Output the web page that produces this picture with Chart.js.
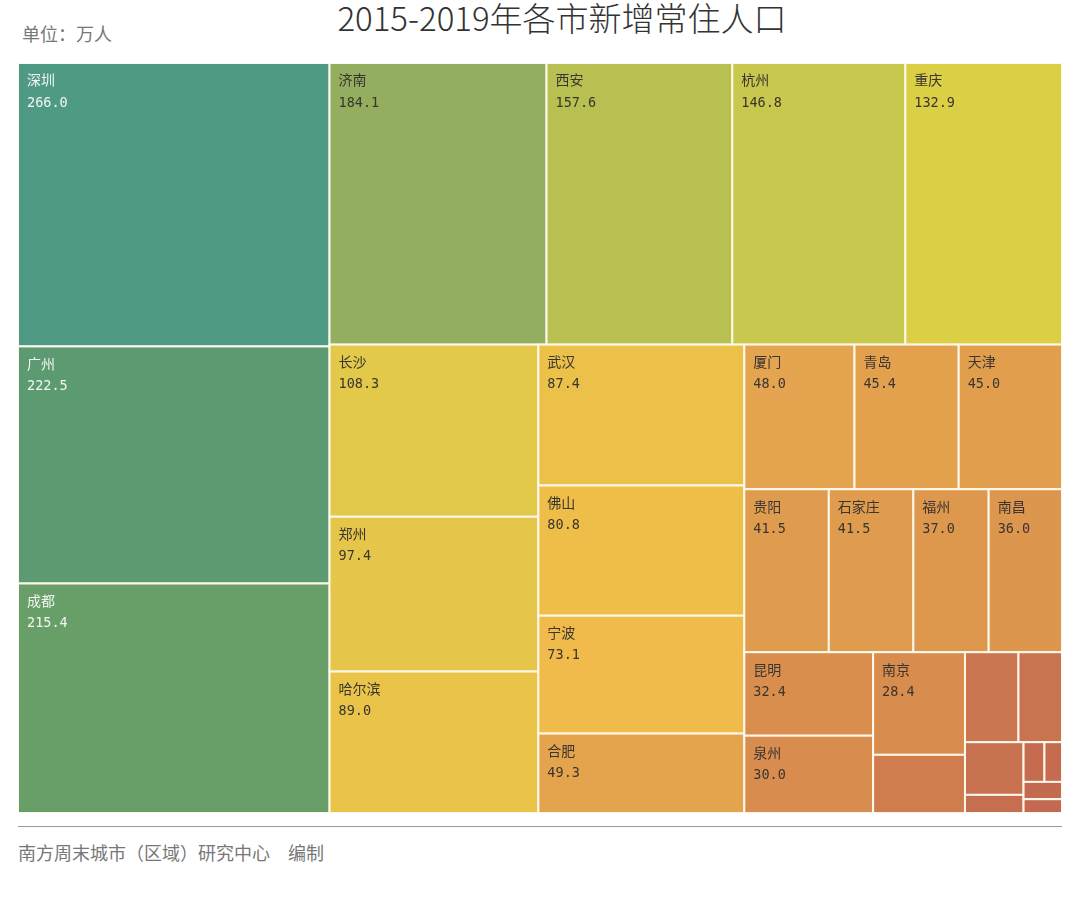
<!DOCTYPE html>
<html lang="zh-CN">
<head>
<meta charset="utf-8">
<title>2015-2019年各市新增常住人口</title>
<script src="https://cdn.jsdelivr.net/npm/chart.js@4.4.1/dist/chart.umd.min.js"></script>
<style>
  html, body { margin: 0; padding: 0; background: #fff; }
  body { width: 1080px; height: 897px; position: relative; overflow: hidden; font-family: "Noto Sans CJK SC", sans-serif; }
  #title { position: absolute; left: 562px; top: 1px; transform: translateX(-50%); white-space: nowrap; font-size: 33px; line-height: 33px; font-weight: 300; color: #333; }
  #unit { position: absolute; left: 22px; top: 24px; font-size: 18px; line-height: 18px; color: #777; }
  #wrap { position: absolute; left: 18px; top: 63px; width: 1044px; height: 750px; }
  #rule { position: absolute; left: 18px; top: 826px; width: 1044px; border-top: 1.5px solid #9a9a9a; }
  #source { position: absolute; left: 18px; top: 843px; font-size: 18px; line-height: 18px; color: #777; white-space: pre; }
</style>
</head>
<body>
<div id="title">2015-2019年各市新增常住人口</div>
<div id="unit">单位：万人</div>
<div id="wrap"><canvas id="treemap" width="1044" height="750"></canvas></div>
<div id="rule"></div>
<div id="source">南方周末城市（区域）研究中心　编制</div>

<script>
// cities sorted by increase (万人); the last few small cells carry no label in the source
const cityNames = ['深圳', '广州', '成都', '济南', '西安', '杭州', '重庆', '长沙', '郑州', '哈尔滨',
  '武汉', '佛山', '宁波', '合肥', '厦门', '青岛', '天津', '贵阳', '石家庄', '福州', '南昌',
  '昆明', '泉州', '南京', '', '', '', '', '', '', '', '', ''];
const cityValues = [266.0, 222.5, 215.4, 184.1, 157.6, 146.8, 132.9, 108.3, 97.4, 89.0,
  87.4, 80.8, 73.1, 49.3, 48.0, 45.4, 45.0, 41.5, 41.5, 37.0, 36.0,
  32.4, 30.0, 28.4, 16.1, 14.5, 11.8, 9.3, 3.2, 2.5, 2.1, 2.0, 1.6];

const cellColors = ['#4f9a84', '#5c9b72', '#689f68', '#93ae5e', '#b8c052', '#c8c84e', '#dbcf46',
  '#e2c94a', '#e6c64a', '#e9c449', '#ecc14a', '#efbe49', '#f0bb4a', '#e4a44e', '#e5a44f',
  '#e3a14e', '#e19f4e', '#e09c4e', '#df9b4e', '#de984e', '#dd964e', '#d98e4e', '#d88c4e',
  '#d88c4e', '#cf7c4f', '#cb7650', '#c97351', '#c87251', '#c66e50', '#c46b50', '#c46b50',
  '#c36a50', '#c3694f'];

const squareRatio = 0.5 * (1 + Math.sqrt(5)); // same golden-ratio bias as the usual treemap tools

// squarified layout in a w x h box, returns rects in the same units
function worst(row, side) {
  const s = row.reduce((a, b) => a + b, 0);
  const mx = Math.max(...row), mn = Math.min(...row);
  const f = side * side * squareRatio;
  return Math.max(f * mx / (s * s), (s * s) / (f * mn));
}

function squarify(values, w, h) {
  const total = values.reduce((a, b) => a + b, 0);
  const areas = values.map(v => v * w * h / total);
  const out = [];
  let x = 0, y = 0, i = 0;
  while (i < areas.length) {
    const side = Math.min(w, h);
    let row = [areas[i]];
    let j = i + 1;
    while (j < areas.length) {
      const next = row.concat(areas[j]);
      if (worst(next, side) <= worst(row, side)) { row = next; j++; } else break;
    }
    const thick = row.reduce((a, b) => a + b, 0) / side;
    if (w >= h) {
      let cy = y;
      row.forEach(a => { out.push({ x: x, y: cy, w: thick, h: a / thick }); cy += a / thick; });
      x += thick; w -= thick;
    } else {
      let cx = x;
      row.forEach(a => { out.push({ x: cx, y: y, w: a / thick, h: thick }); cx += a / thick; });
      y += thick; h -= thick;
    }
    i = j;
  }
  return out;
}

const treemapPlugin = {
  id: 'treemapCells',
  afterDatasetsDraw(chart) {
    const { ctx, chartArea, scales } = chart;
    const k = chartArea.width / chartArea.height;
    const cells = squarify(cityValues, k, 1);
    ctx.save();
    cells.forEach((c, i) => {
      const left = scales.x.getPixelForValue(c.x / k);
      const right = scales.x.getPixelForValue((c.x + c.w) / k);
      const top = scales.y.getPixelForValue(c.y);
      const bottom = scales.y.getPixelForValue(c.y + c.h);
      ctx.fillStyle = cellColors[i];
      ctx.fillRect(left, top, right - left, bottom - top);
      ctx.strokeStyle = '#fdf8ea';
      ctx.lineWidth = 2;
      ctx.strokeRect(left, top, right - left, bottom - top);

      if (cityNames[i]) {
        ctx.fillStyle = i < 3 ? '#f2f5f2' : '#3a3530';
        ctx.textBaseline = 'middle';
        ctx.textAlign = 'left';
        ctx.font = '14px "Noto Sans CJK SC"';
        ctx.fillText(cityNames[i], left + 9, top + 17);
        ctx.font = '13.5px "DejaVu Sans Mono"';
        ctx.fillText(cityValues[i].toFixed(1), left + 9, top + 40);
      }
    });
    ctx.restore();
  }
};

new Chart(document.getElementById('treemap').getContext('2d'), {
  type: 'scatter',
  data: { datasets: [{ label: '新增常住人口', data: [] }] },
  options: {
    responsive: false,
    animation: false,
    layout: { padding: 0 },
    plugins: { legend: { display: false }, tooltip: { enabled: false } },
    scales: {
      x: { type: 'linear', min: 0, max: 1, display: false },
      y: { type: 'linear', min: 0, max: 1, reverse: true, display: false }
    }
  },
  plugins: [treemapPlugin]
});
</script>
</body>
</html>
